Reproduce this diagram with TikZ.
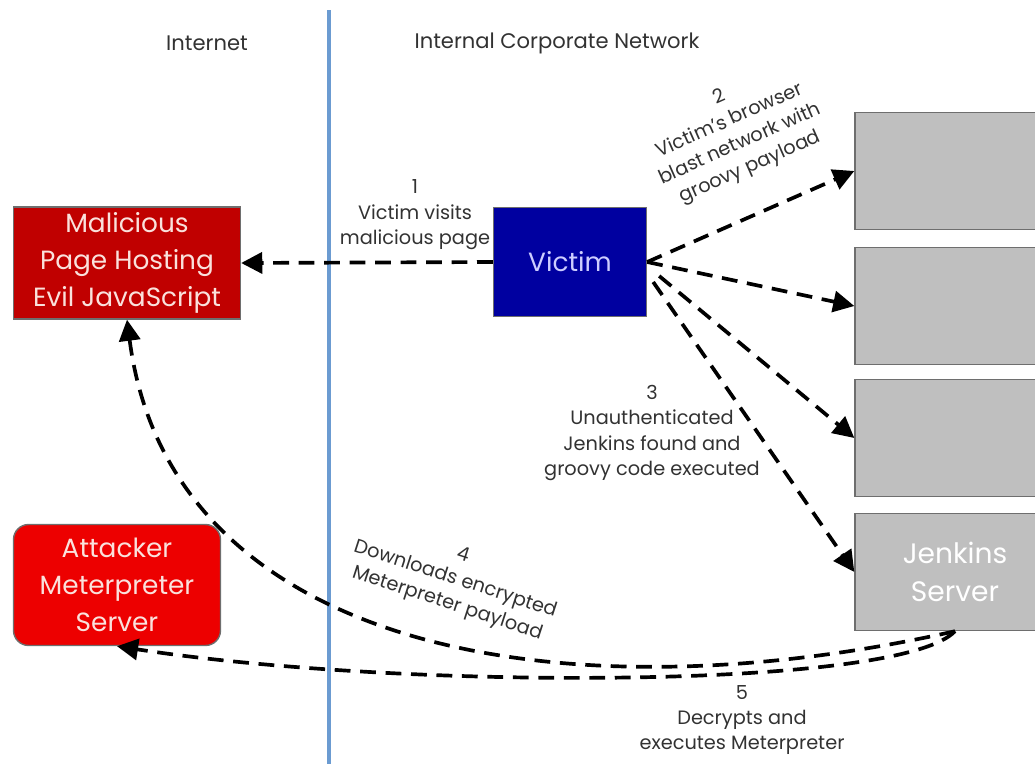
\documentclass[tikz,border=0pt]{standalone}
\usepackage{fontspec}
\setmainfont{Poppins}
\usetikzlibrary{arrows.meta}
\definecolor{darkred}{RGB}{192,0,0}
\definecolor{brightred}{RGB}{237,0,0}
\definecolor{navyblue}{RGB}{0,0,160}
\definecolor{hostgray}{RGB}{191,191,191}
\definecolor{borderline}{RGB}{110,110,110}
\definecolor{zoneline}{RGB}{107,155,209}
\definecolor{labeltext}{RGB}{50,50,50}
\definecolor{paletext}{RGB}{250,225,220}
\definecolor{victimtext}{RGB}{205,205,255}

\begin{document}
\begin{tikzpicture}[x=0.02cm, y=-0.02cm,
    box/.style={draw=borderline, line width=0.8pt, align=center, inner sep=0pt, font=\fontsize{15}{21}\selectfont},
    hostbox/.style={box, fill=hostgray, text=white, minimum width=4cm, minimum height=2.34cm, font=\fontsize{16}{22}\selectfont},
    flow/.style={line width=2.1pt, dash pattern=on 9pt off 5.5pt, -{Triangle[length=12pt,width=12pt]}},
    steplabel/.style={align=center, text=labeltext, font=\fontsize{11}{14.5}\selectfont},
    zonelabel/.style={text=labeltext, font=\fontsize{12}{14}\selectfont}]

    \useasboundingbox (0,0) rectangle (1035,764);
    \clip (0,0) rectangle (1035,764);

    \draw[zoneline, line width=1.8pt] (329,10) -- (329,764);
    \node[zonelabel] (internet) at (207,43) {Internet};
    \node[zonelabel] (corpnet) at (557,43) {Internal Corporate Network};

    \node[box, fill=darkred, text=paletext, minimum width=4.54cm, minimum height=2.24cm] (evilpage) at (127,263) {Malicious\\Page Hosting\\Evil JavaScript};
    \node[box, fill=brightred, text=paletext, rounded corners=0.3cm, minimum width=4.14cm, minimum height=2.42cm] (attacker) at (117,585) {Attacker\\Meterpreter\\Server};
    \node[box, fill=navyblue, text=victimtext, minimum width=3.06cm, minimum height=2.18cm] (victim) at (570,262) {Victim};

    \node[hostbox] (hostA) at (955,171) {};
    \node[hostbox] (hostB) at (955,306) {};
    \node[hostbox] (hostC) at (955,438) {};
    \node[hostbox] (jenkins) at (955,572) {Jenkins\\Server};

    \draw[flow] (victim.west) -- (evilpage.east);
    \draw[flow] (victim.east) -- (hostA.west);
    \draw[flow] (victim.east) -- (hostB.west);
    \draw[flow] ([shift={(12,14)}]victim.east) -- (hostC.west);
    \draw[flow] ([shift={(6,20)}]victim.east) -- (jenkins.west);
    \draw[flow] (jenkins.south) .. controls (560,720) and (170,650) .. (evilpage.south);
    \draw[flow] (jenkins.south) .. controls (900,690) and (400,690) .. (attacker.south);

    \node[steplabel] (stepone) at (415,215) {1\\Victim visits\\malicious page};
    \node[steplabel, rotate=24] (steptwo) at (735,133) {2\\Victim's browser\\blast network with\\groovy payload};
    \node[steplabel] (stepthree) at (652,433) {3\\Unauthenticated\\Jenkins found and\\groovy code executed};
    \node[steplabel, rotate=-18] (stepfour) at (455,580) {4\\Downloads encrypted\\Meterpreter payload};
    \node[steplabel] (stepfive) at (742,720) {5\\Decrypts and\\executes Meterpreter};
\end{tikzpicture}
\end{document}
